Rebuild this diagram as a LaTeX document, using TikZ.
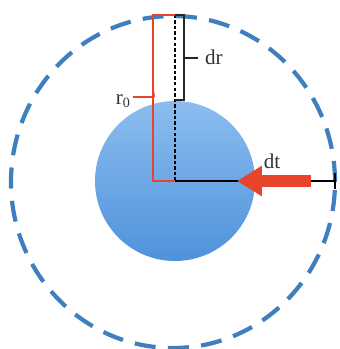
\documentclass[tikz,border=0pt]{standalone}
\usepackage{xcolor}
\usepackage{fontspec}
\setmainfont{Liberation Serif}
\usepackage{tikz}
\usetikzlibrary{arrows.meta,positioning,calc}
\definecolor{shellblue}{HTML}{3F7FBF}
\definecolor{balltop}{HTML}{8CBDF0}
\definecolor{ballbot}{HTML}{4F92DA}
\definecolor{fluxred}{HTML}{E8432B}

\begin{document}
\begin{tikzpicture}[x=0.02cm,y=0.02cm,
  shell/.style={shellblue,line width=2.4pt,dash pattern=on 12pt off 7pt},
  redbr/.style={fluxred,line width=1pt},
  blkbr/.style={black!85,line width=1pt},
  lbl/.style={font=\large,text=black!80,inner sep=1pt}]
  \useasboundingbox (-175,-168) rectangle (165,181);
  % sphere and dashed shell
  \coordinate (O) at (0,0);
  \shade[top color=balltop,bottom color=ballbot] (O) circle (80);
  \draw[shell] (-2,-1) ellipse (162 and 166);
  % radius lines
  \coordinate (top) at (0,166);
  \coordinate (edge) at (160,0);
  \draw[black,line width=1.2pt,dash pattern=on 2pt off 1.2pt] (O) -- (top);
  \draw[black,line width=1pt] (O) -- (edge);
  \draw[black,line width=1.2pt] ($(edge)+(0,-8)$) -- ($(edge)+(0,8)$);
  % r_0 bracket
  \coordinate (r0top) at (-22,166); \coordinate (r0bot) at (-22,0);
  \draw[redbr] (top) -- (r0top) -- (r0bot) -- (O);
  \coordinate (r0tip) at (-22,84);
  \draw[redbr] (-22,90) to[out=-90,in=0] (r0tip) -- ++(-20,0);
  \node[lbl,anchor=east] (r0) at (-42,80) {r\textsubscript{0}};
  % dr bracket
  \coordinate (drbot) at (9,81); \coordinate (drtop) at (9,166);
  \draw[blkbr] (0,81) -- (drbot) -- (drtop) -- (top);
  \draw[blkbr] (9,123) -- (23,123);
  \node[lbl,anchor=west] (dr) at (28,124) {dr};
  % flux arrow
  \coordinate (ftail) at (136,0); \coordinate (fhead) at (62,0);
  \draw[fluxred,line width=7pt,-{Triangle[length=0.5cm,width=0.58cm]}] (ftail) -- (fhead);
  \node[lbl] (dt) at (97,20) {dt};
\end{tikzpicture}
\end{document}
